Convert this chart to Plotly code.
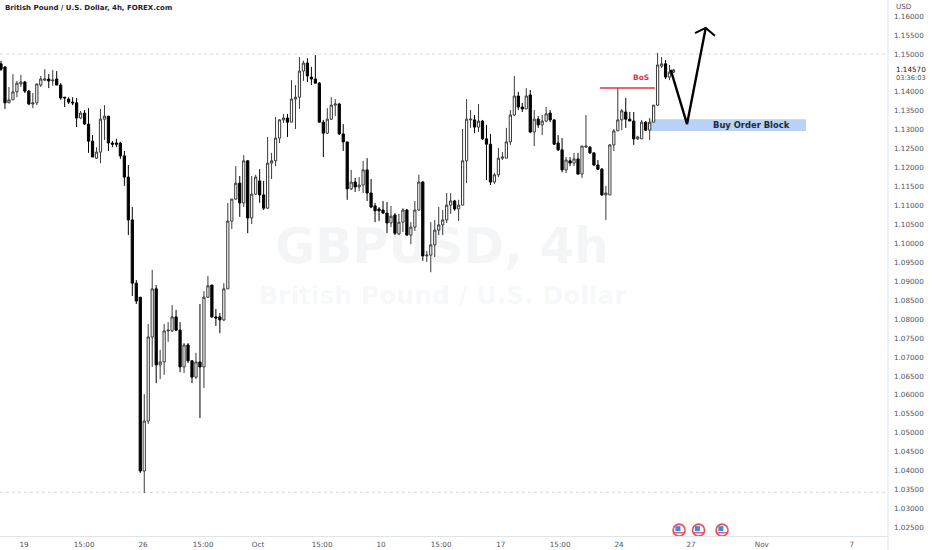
import numpy as np
import plotly.graph_objects as go

# Candle values, in 1/10000 of a dollar
body_top = [
 11474,11466,11379,11400,11423,11426,11426,11402,11371,11421,
 11434,11434,11434,11431,11434,11418,11386,11381,11373,11371,
 11344,11344,11315,11270,11241,11328,11336,11336,11265,11265,
 11265,11231,11175,11062,10895,10858,10531,10753,10880,10880,
 10687,10769,10771,10806,10806,10771,10732,10732,10690,10687,
 10687,10858,10888,10890,10806,10806,10880,11059,11117,11159,
 11159,11218,11218,11130,11175,11165,11128,11212,11218,11278,
 11326,11331,11331,11381,11386,11455,11476,11476,11439,11434,
 11423,11320,11328,11365,11368,11368,11289,11268,11162,11162,
 11154,11194,11194,11133,11099,11091,11088,11080,11072,11075,
 11056,11088,11088,11043,11088,11162,11162,10969,10996,11035,
 11049,11062,11101,11112,11112,11101,11218,11328,11328,11326,
 11323,11323,11276,11262,11181,11225,11228,11268,11339,11389,
 11389,11360,11389,11392,11328,11328,11323,11342,11344,11326,
 11265,11247,11220,11218,11223,11223,11257,11257,11254,11239,
 11207,11196,11133,11260,11297,11326,11350,11347,11328,11323,
 11281,11320,11320,11320,11365,11471,11474,11474,11452,11458]
body_bottom = [
 11460,11371,11371,11379,11400,11421,11402,11368,11368,11371,
 11418,11431,11429,11429,11418,11384,11384,11373,11371,11331,
 11331,11315,11270,11228,11225,11241,11328,11265,11262,11262,
 11231,11175,11062,10895,10848,10399,10399,10531,10753,10679,
 10679,10687,10769,10769,10771,10674,10674,10690,10647,10647,
 10674,10674,10858,10806,10803,10798,10798,10880,11059,11117,
 11107,11107,11067,11067,11130,11128,11093,11093,11212,11218,
 11278,11326,11320,11320,11381,11386,11455,11442,11434,11423,
 11320,11291,11291,11328,11365,11289,11268,11144,11144,11149,
 11149,11154,11133,11096,11086,11086,11080,11054,11054,11027,
 11025,11056,11022,11022,11043,11088,10967,10967,10969,10996,
 11035,11049,11062,11101,11091,11091,11101,11218,11326,11307,
 11307,11276,11262,11162,11162,11181,11225,11225,11268,11339,
 11360,11355,11355,11294,11294,11313,11313,11323,11326,11262,
 11247,11194,11194,11212,11212,11183,11183,11254,11239,11207,
 11196,11128,11128,11128,11260,11297,11326,11328,11323,11276,
 11276,11276,11299,11299,11320,11365,11468,11439,11439,11452]
wick_high = [
 11482,11466,11413,11447,11429,11445,11429,11405,11397,11421,
 11442,11460,11447,11458,11455,11423,11386,11386,11386,11384,
 11350,11352,11357,11286,11254,11355,11365,11336,11270,11276,
 11268,11244,11207,11096,10903,10858,10602,10787,10930,10890,
 10719,10787,10792,10837,10824,10792,10737,10737,10692,10711,
 10840,10874,10914,10890,10827,10816,10895,11107,11117,11204,
 11178,11233,11220,11178,11181,11196,11165,11281,11239,11334,
 11328,11342,11342,11431,11418,11492,11482,11489,11466,11497,
 11426,11326,11357,11386,11381,11371,11315,11268,11194,11173,
 11175,11218,11225,11170,11107,11096,11112,11109,11099,11080,
 11078,11093,11091,11056,11112,11181,11165,10980,11056,11062,
 11096,11088,11133,11133,11115,11115,11302,11381,11352,11339,
 11368,11326,11313,11289,11186,11252,11241,11305,11352,11442,
 11400,11371,11410,11405,11352,11336,11339,11360,11352,11328,
 11286,11278,11228,11228,11239,11239,11257,11339,11257,11239,
 11220,11199,11152,11262,11302,11410,11355,11384,11347,11347,
 11284,11326,11323,11331,11365,11503,11492,11484,11471,11460]
wick_low = [
 11455,11355,11371,11379,11386,11413,11397,11365,11357,11365,
 11413,11429,11410,11416,11418,11379,11360,11368,11365,11307,
 11328,11313,11239,11228,11223,11212,11273,11244,11254,11254,
 11223,11152,11022,10861,10840,10394,10341,10523,10674,10631,
 10642,10653,10740,10766,10769,10660,10658,10684,10631,10642,
 10539,10618,10856,10803,10782,10763,10795,10880,11038,11115,
 11070,11096,11027,11051,11128,11107,11088,11091,11170,11204,
 11265,11318,11281,11320,11302,11355,11429,11426,11418,11423,
 11320,11228,11289,11326,11336,11286,11244,11115,11141,11136,
 11138,11133,11112,11093,11056,11059,11078,11027,11043,11022,
 11022,11030,11020,10998,11033,11086,10954,10951,10924,10964,
 11022,11022,11054,11078,11086,11059,11101,11159,11305,11291,
 11294,11273,11167,11154,11157,11175,11220,11225,11260,11336,
 11352,11347,11355,11291,11257,11305,11286,11320,11320,11260,
 11244,11188,11186,11204,11204,11181,11173,11254,11236,11204,
 11194,11125,11062,11128,11244,11297,11299,11305,11323,11260,
 11273,11276,11297,11273,11320,11363,11463,11434,11431,11450]
direction = ("BBWWWWBBWW" "WWBWBBBBBB" "WBBBWWWBBB" "BBBBBBWWWB"
             "WWWWBBWBBW" "BWWBBBWWWW" "BWBWWBBWWW" "WWBWWWWBBB"
             "BBWWWBBBWB" "WWBBBBBBWB" "WWBWWWBWWW" "WWWWBWWWWB"
             "WBBBWWWWWW" "BBWBWBWWBB" "BBWBWBWWBB" "BBWWWWWBBB"
             "WWBWWWWBWW")

x_tick_pos = [5.8, 20.9, 35.7, 50.8, 64.6, 80.7, 95.5, 110.6, 125.6, 140.5, 155.3, 173.4, 191.2, 213.8]
x_tick_text = ["19", "15:00", "26", "15:00", "Oct", "15:00", "10", "15:00", "17", "15:00", "24", "27", "Nov", "7"]
price_ticks = [1.025, 1.03, 1.035, 1.04, 1.045, 1.05, 1.055, 1.06, 1.065, 1.07, 1.075, 1.08, 1.085,
               1.09, 1.095, 1.10, 1.105, 1.11, 1.115, 1.12, 1.125, 1.13, 1.135, 1.14, 1.15, 1.155, 1.16]

last_price = 1.1457
high_level = 1.15
low_level = 1.0343
bos_price = 1.1410
bos_start, bos_end = 150.5, 164.3
block_top, block_bottom = 1.1328, 1.1297
block_start, block_end = 163.0, 202.3
arrow_x = [168.3, 172.4, 177.1]
arrow_y = [1.1458, 1.1315, 1.1569]
head_x = [174.4, 177.1, 179.4]
head_y = [1.1555, 1.1569, 1.1548]
event_x = [170.4, 175.3, 181.2]
event_y = [1.0243, 1.0243, 1.0243]

n = len(body_top)
bars = np.arange(n)
top = np.array(body_top) / 1e4
bottom = np.array(body_bottom) / 1e4
bear = np.array([d == "B" for d in direction])
open_ = np.where(bear, top, bottom)
close_ = np.where(bear, bottom, top)

TEXT = "#50535e"
FONT = "DejaVu Sans"

fig = go.Figure()
fig.add_trace(go.Candlestick(
    x=bars, open=open_, high=np.array(wick_high) / 1e4, low=np.array(wick_low) / 1e4, close=close_,
    increasing=dict(line=dict(color="#3a3a3a", width=1), fillcolor="#ffffff"),
    decreasing=dict(line=dict(color="#000000", width=1), fillcolor="#000000"),
    whiskerwidth=0, hoverinfo="skip", showlegend=False))
fig.add_trace(go.Scatter(x=arrow_x, y=arrow_y, mode="lines", line=dict(color="#000000", width=2.4),
                         hoverinfo="skip", showlegend=False))
fig.add_trace(go.Scatter(x=head_x, y=head_y, mode="lines", line=dict(color="#000000", width=2),
                         hoverinfo="skip", showlegend=False))
# economic event badges
fig.add_trace(go.Scatter(x=event_x, y=event_y, mode="markers", cliponaxis=False,
                         marker=dict(size=12, color="#f9f4f5", line=dict(color="#ea4d5c", width=1.6)),
                         hoverinfo="skip", showlegend=False))
fig.add_trace(go.Scatter(x=event_x, y=[v - 0.0007 for v in event_y], mode="markers", cliponaxis=False,
                         marker=dict(size=8, symbol="line-ew", line=dict(color="#ea4d5c", width=1.3)),
                         hoverinfo="skip", showlegend=False))
fig.add_trace(go.Scatter(x=[v - 0.3 for v in event_x], y=[v + 0.0004 for v in event_y], mode="markers",
                         cliponaxis=False, marker=dict(size=5, symbol="square", color="#3f8be0"),
                         hoverinfo="skip", showlegend=False))

shapes = [
    dict(type="line", xref="paper", x0=0, x1=1, yref="y", y0=high_level, y1=high_level,
         line=dict(color="#d6d8dc", width=1, dash="dot"), layer="below"),
    dict(type="line", xref="paper", x0=0, x1=1, yref="y", y0=low_level, y1=low_level,
         line=dict(color="#d6d8dc", width=1, dash="dot"), layer="below"),
    dict(type="rect", xref="x", yref="y", x0=block_start, x1=block_end, y0=block_bottom, y1=block_top,
         fillcolor="#b9d2f5", line=dict(width=0), layer="below"),
    dict(type="line", xref="x", yref="y", x0=bos_start, x1=bos_end, y0=bos_price, y1=bos_price,
         line=dict(color="#e0323f", width=1.5)),
    dict(type="line", xref="paper", yref="paper", x0=1, x1=1, y0=-0.03, y1=1,
         line=dict(color="#e0e3eb", width=1)),
]

def note(text, x, y, size, color, weight="normal", family=FONT, xref="paper", yref="paper", xanchor="center"):
    return dict(text=text, x=x, y=y, xref=xref, yref=yref, showarrow=False, xanchor=xanchor, yanchor="middle",
                font=dict(size=size, color=color, family=family, weight=weight))

annotations = [
    note("GBPUSD, 4h", 0.498, 0.541, 49, "rgba(30,60,90,0.05)", "bold"),
    note("British Pound / U.S. Dollar", 0.499, 0.448, 25, "rgba(30,60,90,0.05)", "bold"),
    note("British Pound / U.S. Dollar, 4h, FOREX.com", 3 / 888, 0.985, 7, "#1f2230", "bold", xanchor="left"),
    note("BoS", 160.8, bos_price + 0.0028, 7.5, "#e0323f", "bold", xref="x", yref="y"),
    note("Buy Order Block", 188.7, (block_top + block_bottom) / 2, 8.4, "#1d2a3a", "bold", xref="x", yref="y"),
    note("USD", 1.0063, 0.988, 7.2, TEXT, xanchor="left"),
    note("1.14570", 1.0063, 0.8695, 7.2, "#131722", xanchor="left"),
    note("03:36:03", 1.0063, 0.8545, 6.6, TEXT, xanchor="left"),
]

fig.update_layout(
    width=932, height=550, autosize=False,
    margin=dict(l=0, r=44, t=0, b=14),
    paper_bgcolor="#ffffff", plot_bgcolor="#ffffff",
    showlegend=False, shapes=shapes, annotations=annotations, boxgap=0.2,
    font=dict(family=FONT, size=7.2, color=TEXT),
    xaxis=dict(range=[-0.25, 222.9], tickmode="array", tickvals=x_tick_pos, ticktext=x_tick_text,
               showgrid=False, zeroline=False, showline=True, linecolor="#e0e3eb", linewidth=1,
               ticks="", rangeslider=dict(visible=False), ticklabelstandoff=1,
               tickfont=dict(size=7.2, color=TEXT), fixedrange=True),
    yaxis=dict(range=[1.02275, 1.16426], side="right", tickmode="array", tickvals=price_ticks,
               ticktext=[f"{v:.5f}" for v in price_ticks], showgrid=False, zeroline=False,
               showline=False, ticks="", ticklabelstandoff=5,
               tickfont=dict(size=7.2, color=TEXT), fixedrange=True),
)

fig.write_html("out.html", config=dict(displayModeBar=False),
               post_script="document.body.style.margin='0';document.body.style.overflow='hidden';")
